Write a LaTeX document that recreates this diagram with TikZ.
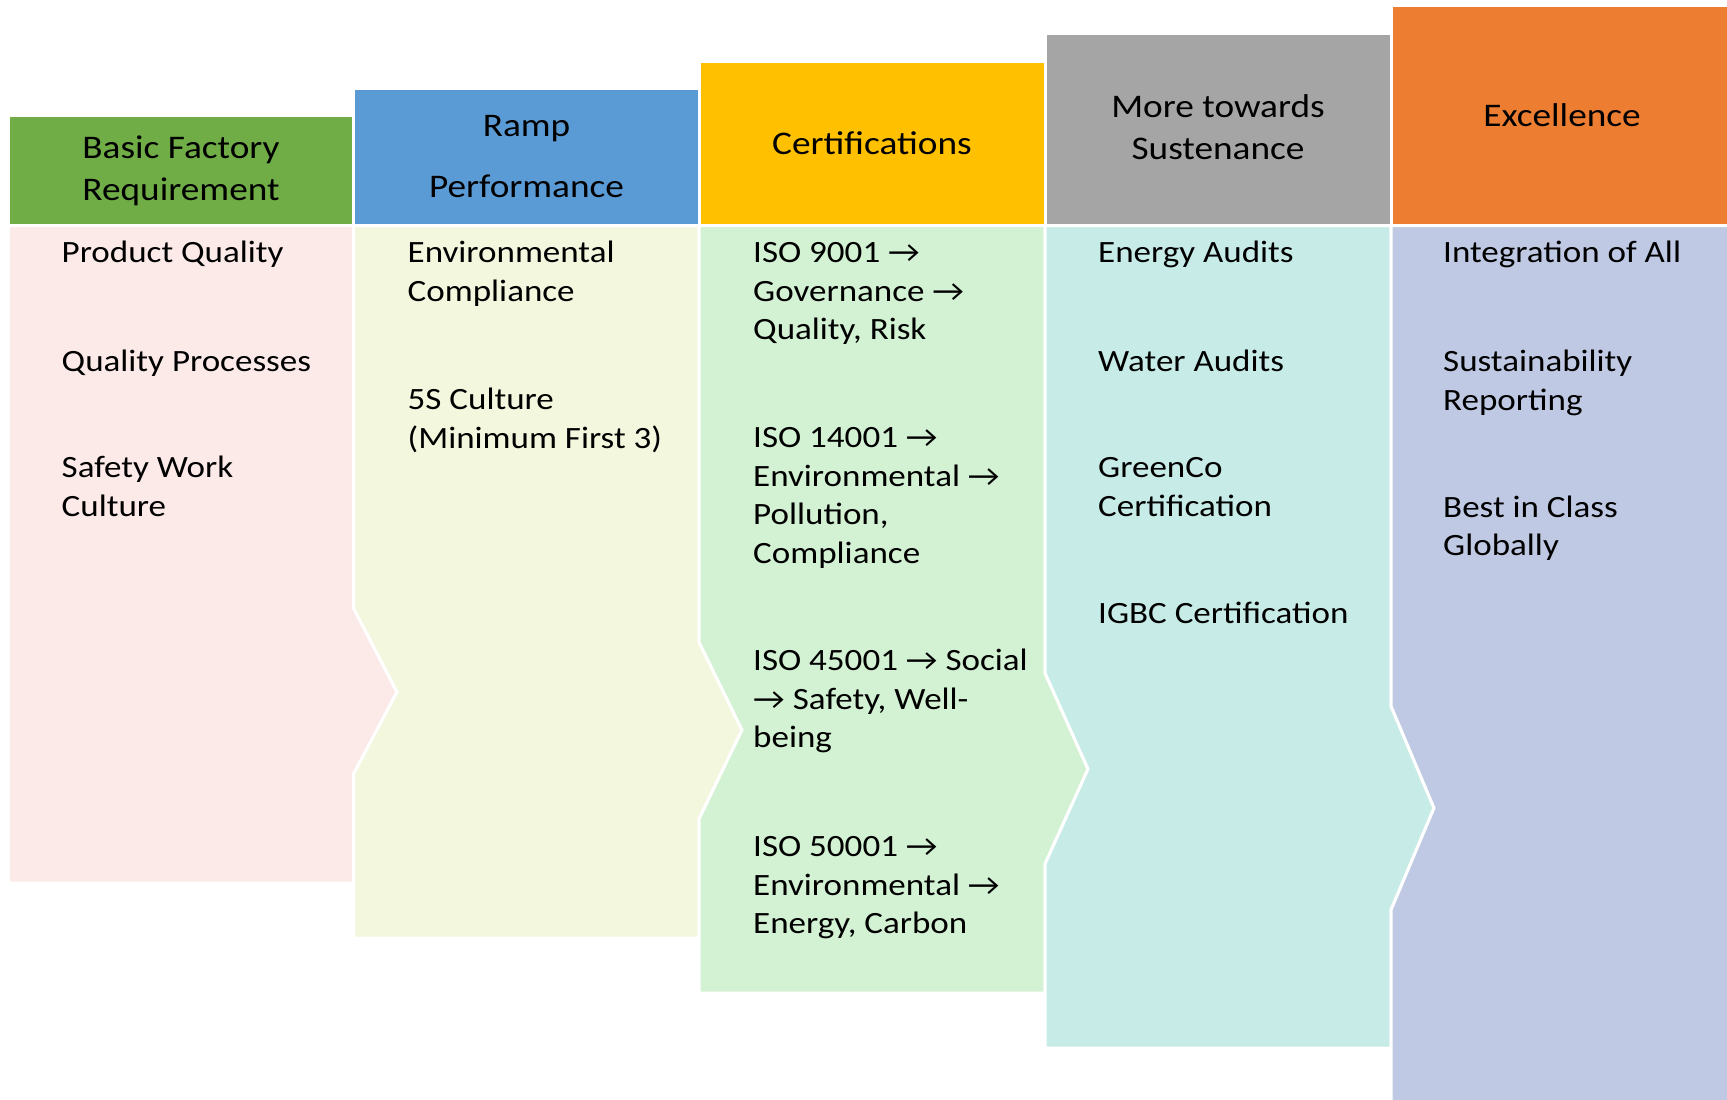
\documentclass[tikz,border=0pt]{standalone}
\usepackage{fontspec}
\setmainfont{Carlito}[FakeStretch=1.13]
\definecolor{hGreen}{HTML}{70AD47}
\definecolor{hBlue}{HTML}{5B9BD5}
\definecolor{hGold}{HTML}{FFC000}
\definecolor{hGray}{HTML}{A5A5A5}
\definecolor{hOrange}{HTML}{ED7D31}
\definecolor{bPink}{HTML}{FBEAE7}
\definecolor{bLime}{HTML}{F3F7DE}
\definecolor{bGreen}{HTML}{D3F1D3}
\definecolor{bCyan}{HTML}{C7ECE8}
\definecolor{bLav}{HTML}{BFC9E3}
\begin{document}
\begin{tikzpicture}[x=1pt,y=-1pt,
  hdr/.style={font=\fontsize{33}{41.7}\selectfont, align=center, anchor=base, inner sep=0pt},
  itm/.style={font=\fontsize{31}{38.5}\selectfont, align=left, anchor=base west, inner sep=0pt},
  cell/.style={draw=white, line width=3pt, line join=miter}]
\useasboundingbox (0,0) rectangle (1727,1100);
\fill[white] (0,0) rectangle (1727,1100);
% bodies
\path[cell, fill=bPink] (8.5,225.5) -- (353.5,225.5) -- (353.5,608) -- (397,692) -- (353.5,774) -- (353.5,883) -- (8.5,883) -- cycle;
\path[cell, fill=bLime] (353.5,225.5) -- (699,225.5) -- (699,642) -- (742,730) -- (699,819) -- (699,938) -- (353.5,938) -- (353.5,774) -- (397,692) -- (353.5,608) -- cycle;
\path[cell, fill=bGreen] (699,225.5) -- (1045,225.5) -- (1045,673) -- (1088,769) -- (1045,864) -- (1045,993) -- (699,993) -- (699,819) -- (742,730) -- (699,642) -- cycle;
\path[cell, fill=bCyan] (1045,225.5) -- (1391,225.5) -- (1391,706) -- (1434,808) -- (1391,910) -- (1391,1048) -- (1045,1048) -- (1045,864) -- (1088,769) -- (1045,673) -- cycle;
\path[cell, fill=bLav] (1391,225.5) -- (1731,225.5) -- (1731,1103) -- (1391,1103) -- (1391,910) -- (1434,808) -- (1391,706) -- cycle;
% headers
\path[cell, fill=hGreen] (8.5,115.5) rectangle (353.5,225.5);
\path[cell, fill=hBlue] (353.5,88) rectangle (699,225.5);
\path[cell, fill=hGold] (699,61.5) rectangle (1045,225.5);
\path[cell, fill=hGray] (1045,33.5) rectangle (1391,225.5);
\path[cell, fill=hOrange] (1391,5.5) rectangle (1731,225.5);
% header texts (anchor = baseline of last line)
\node[hdr] (h1) at (181,200.2) {Basic Factory\\Requirement};
\node[hdr] (h2) at (526.5,197.3) {Ramp\\[19pt]Performance};
\node[hdr] (h3) at (872,154) {Certifications};
\node[hdr] (h4) at (1218,159.2) {More towards\\Sustenance};
\node[hdr] (h5) at (1562,126) {Excellence};
% column 1
\node[itm] (a1) at (61.5,262.7) {Product Quality};
\node[itm] (a2) at (61.5,371.7) {Quality Processes};
\node[itm] (a3) at (61.5,516.2) {Safety Work\\Culture};
% column 2
\node[itm] (b1) at (407.5,301.2) {Environmental\\Compliance};
\node[itm] (b2) at (407.5,448) {5S Culture\\(Minimum First 3)};
% column 3
\node[itm] (c1) at (753,339.7) {ISO 9001 →\\Governance →\\Quality, Risk};
\node[itm] (c2) at (753,563) {ISO 14001 →\\Environmental →\\Pollution,\\Compliance};
\node[itm] (c3) at (753,747.7) {ISO 45001 → Social\\→ Safety, Well-\\being};
\node[itm] (c4) at (753,933.7) {ISO 50001 →\\Environmental →\\Energy, Carbon};
% column 4
\node[itm] (d1) at (1098,262.7) {Energy Audits};
\node[itm] (d2) at (1098,371.7) {Water Audits};
\node[itm] (d3) at (1098,516.2) {GreenCo\\Certification};
\node[itm] (d4) at (1098,623.3) {IGBC Certification};
% column 5
\node[itm] (e1) at (1443,262.7) {Integration of All};
\node[itm] (e2) at (1443,410.2) {Sustainability\\Reporting};
\node[itm] (e3) at (1443,555.5) {Best in Class\\Globally};
\end{tikzpicture}
\end{document}
